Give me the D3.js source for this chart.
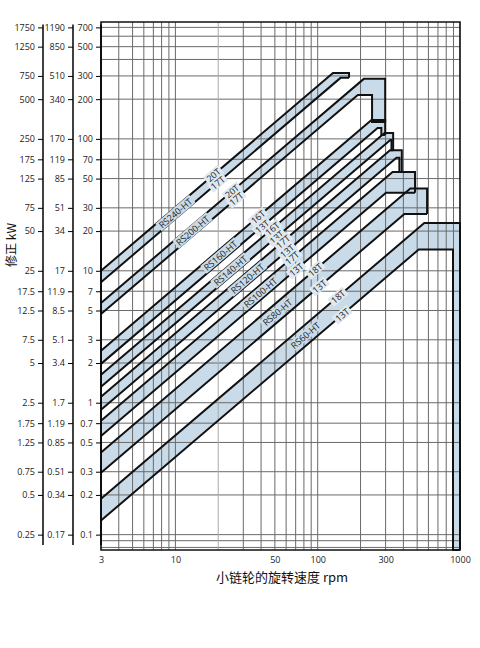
<!DOCTYPE html>
<html><head><meta charset="utf-8">
<script src="https://cdn.jsdelivr.net/npm/d3@7"></script>
<style>body{margin:0;background:#fff}text{font-family:"Open Sans","DejaVu Sans",sans-serif}</style>
</head><body><svg width="480" height="648"></svg>
<script>
// left scales: kW columns, third column is the plotted one
const col1 = ['1750','1250','750','500','250','175','125','75','50','25','17.5','12.5','7.5','5','2.5','1.75','1.25','0.75','0.5','0.25'];
const col2 = ['1190','850','510','340','170','119','85','51','34','17','11.9','8.5','5.1','3.4','1.7','1.19','0.85','0.51','0.34','0.17'];
const col3 = [700,500,300,200,100,70,50,30,20,10,7,5,3,2,1,0.7,0.5,0.3,0.2,0.1];
const extraGrid = [600,400,0.09,0.08];
const xTicks = [3,10,50,100,300,1000];
const xGrid = [3,4,5,6,7,8,9,10,20,30,40,50,60,70,80,90,100,200,300,400,500,600,700,800,900,1000];

// chains
const chains = ['RS240-HT','RS200-HT','RS160-HT','RS140-HT','RS120-HT','RS100-HT','RS80-HT','RS60-HT'];
const upStart = [10,5.7,2.48,1.63,1.11,0.73,0.42,0.187];
const lowStart = [8.2,4.7,1.97,1.32,0.885,0.56,0.295,0.128];
const upCap = [316,285,139,111,82,56,42,23];
const lowCap = [290,215,121,98,72,39,27,14.5];
const upEnd = [166,298,298,339,390,483,587,1000];
const lowEnd = [166,241,280,330,375,390,520,893];
const dropTo = [290,134,107,82,56,39,27,0.0765];
const upTeeth = ['20T','20T','16T','16T','17T','17T','18T','18T'];
const lowTeeth = ['17T','17T','13T','13T','13T','13T','13T','13T'];
const nameAt = [10,13.2,20.7,24.3,32,39.5,52,82];
const teethAt = [18.5,25,38,48,57,66,96,139];
const slope = 0.92;

const svg = d3.select('svg');
const x = d3.scaleLog().domain([3,1000]).range([101,460]);
const y = d3.scaleLog().domain([0.0765,769]).range([550,22]);
const band = '#c9dbe8';

const reach = (v0, cap) => 3 * Math.pow(cap / v0, 1 / slope);
const onLine = (v0, r) => v0 * Math.pow(r / 3, slope);
const line = d3.line().x(d => x(d[0])).y(d => y(d[1]));

const shapes = chains.map((c, i) => {
  const up = [[3, upStart[i]], [reach(upStart[i], upCap[i]), upCap[i]], [upEnd[i], upCap[i]], [upEnd[i], dropTo[i]]];
  const low = [[3, lowStart[i]], [reach(lowStart[i], lowCap[i]), lowCap[i]], [lowEnd[i], lowCap[i]], [lowEnd[i], dropTo[i]]];
  return {up, low};
});

// band fills
svg.append('g').selectAll('path').data(shapes).join('path')
  .attr('d', s => line(s.up.concat(s.low.slice().reverse())) + 'Z')
  .attr('fill', band);

// grid
const grid = svg.append('g').attr('stroke', '#6a6a6a').attr('stroke-width', 1);
grid.selectAll('.h').data(col3.concat(extraGrid)).join('line')
  .attr('x1', 101).attr('x2', 460).attr('y1', d => y(d)).attr('y2', d => y(d));
grid.selectAll('.v').data(xGrid).join('line')
  .attr('y1', 22).attr('y2', 550).attr('x1', d => x(d)).attr('x2', d => x(d))
  .attr('stroke', d => d === 20 ? '#aaa' : null);

// chain outlines
const ol = svg.append('g').attr('fill', 'none').attr('stroke', '#111').attr('stroke-width', 2);
shapes.forEach(s => {
  ol.append('path').attr('d', line(s.up));
  ol.append('path').attr('d', line(s.low.concat([s.up[3]])));
});

svg.append('rect').attr('x', 101).attr('y', 22).attr('width', 359).attr('height', 528)
  .attr('fill', 'none').attr('stroke', '#111').attr('stroke-width', 1.5);

// labels along the bands
const ang = Math.atan2(y(onLine(1, 30)) - y(onLine(1, 3)), x(30) - x(3)) * 180 / Math.PI;
const lab = svg.append('g').attr('font-size', 9).attr('fill', '#222')
  .attr('text-anchor', 'middle').attr('dominant-baseline', 'central');
function put(txt, r, v, bg) {
  const g = lab.append('g').attr('transform', `translate(${x(r)},${y(v)}) rotate(${ang})`);
  const t = g.append('text').text(txt);
  const w = t.node().getComputedTextLength();
  g.insert('rect', 'text').attr('x', -w / 2 - 2).attr('y', -5).attr('width', w + 4).attr('height', 10).attr('fill', bg);
}
chains.forEach((c, i) => {
  const mid = Math.sqrt(onLine(upStart[i], nameAt[i]) * onLine(lowStart[i], nameAt[i]));
  put(c, nameAt[i], mid, band);
  put(upTeeth[i], teethAt[i], onLine(upStart[i], teethAt[i]), '#dfe9f1');
  put(lowTeeth[i], teethAt[i] * 1.07, onLine(lowStart[i], teethAt[i] * 1.07), '#dfe9f1');
});

// axes
const ax = (pos, labels) => {
  const g = svg.append('g').attr('transform', `translate(${pos},0)`)
    .call(d3.axisLeft(y).tickValues(col3).tickSize(5).tickFormat((d, i) => labels[i]));
  g.select('.domain').attr('stroke-width', 1.5).attr('d', `M0,${y(700) - 3}V${y(0.0765) - 5}`);
  g.selectAll('text').attr('font-size', 9).attr('fill', '#222');
};
ax(43, col1);
ax(73, col2);
ax(101, col3.map(String));

const xa = svg.append('g').attr('transform', 'translate(0,550)')
  .call(d3.axisBottom(x).tickValues(xTicks).tickSize(0).tickPadding(7).tickFormat(d3.format('d')));
xa.select('.domain').remove();
xa.selectAll('text').attr('font-size', 9).attr('fill', '#222');

svg.append('text').attr('x', 282).attr('y', 582).attr('text-anchor', 'middle')
  .attr('font-size', 13).attr('fill', '#111')
  .style('font-family', '"Noto Sans CJK SC",sans-serif').text('小链轮的旋转速度 rpm');
svg.append('text').attr('transform', 'translate(16,245) rotate(-90)').attr('text-anchor', 'middle')
  .attr('font-size', 12).attr('fill', '#111')
  .style('font-family', '"Noto Sans CJK SC",sans-serif').text('修正 kW');
</script></body></html>
